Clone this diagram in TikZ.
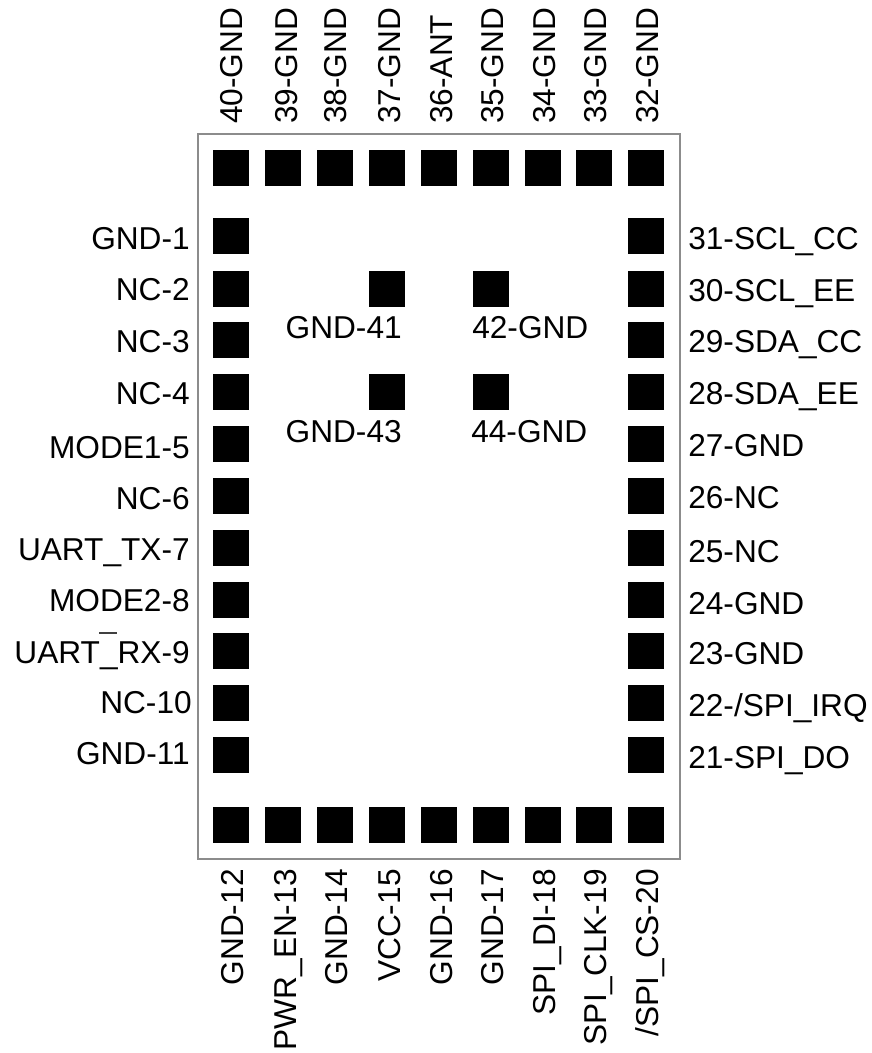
\documentclass[tikz,border=0pt]{standalone}
\usepackage{fontspec}
\setmainfont{Liberation Sans}

\begin{document}
\begin{tikzpicture}[x=0.025cm, y=-0.025cm,
    every node/.style={font=\fontsize{22.5}{27}\selectfont, inner sep=0},
    pad/.style={fill=black, minimum size=0.9cm},
    dashmark/.style={fill=black!75, minimum width=0.45cm, minimum height=0.05cm},
    body/.style={draw=black!45, line width=1.4pt, minimum width=12.05cm, minimum height=18.125cm}]
    \useasboundingbox (0, 0) rectangle (872, 1053);

    \node[body] (body) at (439, 496.5) {};

    % left side
    \node[pad] (1) at (231, 236) {};
    \node[anchor=base east] (1label) at (190, 249) {GND-1};
    \node[pad] (2) at (231, 289) {};
    \node[anchor=base east] (2label) at (190, 300) {NC-2};
    \node[pad] (3) at (231, 340) {};
    \node[anchor=base east] (3label) at (190, 352) {NC-3};
    \node[pad] (4) at (231, 392) {};
    \node[anchor=base east] (4label) at (190, 404) {NC-4};
    \node[pad] (5) at (231, 444) {};
    \node[anchor=base east] (5label) at (190, 458) {MODE1-5};
    \node[pad] (6) at (231, 496) {};
    \node[anchor=base east] (6label) at (190, 509) {NC-6};
    \node[pad] (7) at (231, 548) {};
    \node[anchor=base east] (7label) at (190, 560) {UART\_TX-7};
    \node[pad] (8) at (231, 600) {};
    \node[anchor=base east] (8label) at (190, 611) {MODE2-8};
    \node[pad] (9) at (231, 651) {};
    \node[anchor=base east] (9label) at (190, 663) {UART\_RX-9};
    \node[dashmark] (9mark) at (108, 633) {};
    \node[pad] (10) at (231, 703) {};
    \node[anchor=base east] (10label) at (192, 713) {NC-10};
    \node[pad] (11) at (231, 755) {};
    \node[anchor=base east] (11label) at (190, 764) {GND-11};

    % bottom side
    \node[pad] (12) at (231, 825) {};
    \node[rotate=90, anchor=base east] (12label) at (243, 869) {GND-12};
    \node[pad] (13) at (283, 825) {};
    \node[rotate=90, anchor=base east] (13label) at (296, 869) {PWR\_EN-13};
    \node[pad] (14) at (335, 825) {};
    \node[rotate=90, anchor=base east] (14label) at (347, 869) {GND-14};
    \node[pad] (15) at (387, 825) {};
    \node[rotate=90, anchor=base east] (15label) at (400, 869) {VCC-15};
    \node[pad] (16) at (439, 825) {};
    \node[rotate=90, anchor=base east] (16label) at (452, 869) {GND-16};
    \node[pad] (17) at (491, 825) {};
    \node[rotate=90, anchor=base east] (17label) at (503, 869) {GND-17};
    \node[pad] (18) at (543, 825) {};
    \node[rotate=90, anchor=base east] (18label) at (555, 869) {SPI\_DI-18};
    \node[pad] (19) at (594, 825) {};
    \node[rotate=90, anchor=base east] (19label) at (606, 869) {SPI\_CLK-19};
    \node[pad] (20) at (646, 825) {};
    \node[rotate=90, anchor=base east] (20label) at (658, 869) {/SPI\_CS-20};

    % right side
    \node[pad] (21) at (646, 755) {};
    \node[anchor=base west] (21label) at (688, 768) {21-SPI\_DO};
    \node[pad] (22) at (646, 703) {};
    \node[anchor=base west] (22label) at (688, 716) {22-/SPI\_IRQ};
    \node[pad] (23) at (646, 651) {};
    \node[anchor=base west] (23label) at (688, 664) {23-GND};
    \node[pad] (24) at (646, 600) {};
    \node[anchor=base west] (24label) at (688, 614) {24-GND};
    \node[pad] (25) at (646, 548) {};
    \node[anchor=base west] (25label) at (688, 562) {25-NC};
    \node[pad] (26) at (646, 496) {};
    \node[anchor=base west] (26label) at (688, 508) {26-NC};
    \node[pad] (27) at (646, 444) {};
    \node[anchor=base west] (27label) at (688, 456) {27-GND};
    \node[pad] (28) at (646, 392) {};
    \node[anchor=base west] (28label) at (688, 404) {28-SDA\_EE};
    \node[pad] (29) at (646, 340) {};
    \node[anchor=base west] (29label) at (688, 352) {29-SDA\_CC};
    \node[pad] (30) at (646, 289) {};
    \node[anchor=base west] (30label) at (688, 301) {30-SCL\_EE};
    \node[pad] (31) at (646, 236) {};
    \node[anchor=base west] (31label) at (688, 249) {31-SCL\_CC};

    % top side
    \node[pad] (32) at (646, 168) {};
    \node[rotate=90, anchor=base west] (32label) at (658, 124) {32-GND};
    \node[pad] (33) at (594, 168) {};
    \node[rotate=90, anchor=base west] (33label) at (606, 124) {33-GND};
    \node[pad] (34) at (543, 168) {};
    \node[rotate=90, anchor=base west] (34label) at (555, 124) {34-GND};
    \node[pad] (35) at (491, 168) {};
    \node[rotate=90, anchor=base west] (35label) at (503, 124) {35-GND};
    \node[pad] (36) at (439, 168) {};
    \node[rotate=90, anchor=base west] (36label) at (452, 124) {36-ANT};
    \node[pad] (37) at (387, 168) {};
    \node[rotate=90, anchor=base west] (37label) at (400, 124) {37-GND};
    \node[pad] (38) at (335, 168) {};
    \node[rotate=90, anchor=base west] (38label) at (346, 124) {38-GND};
    \node[pad] (39) at (283, 168) {};
    \node[rotate=90, anchor=base west] (39label) at (297, 124) {39-GND};
    \node[pad] (40) at (231, 168) {};
    \node[rotate=90, anchor=base west] (40label) at (242, 124) {40-GND};

    % inner pads
    \node[pad] (41) at (387, 289) {};
    \node[anchor=base east] (41label) at (402, 338) {GND-41};
    \node[pad] (42) at (491, 289) {};
    \node[anchor=base west] (42label) at (472, 338) {42-GND};
    \node[pad] (43) at (387, 392) {};
    \node[anchor=base east] (43label) at (402, 442) {GND-43};
    \node[pad] (44) at (491, 392) {};
    \node[anchor=base west] (44label) at (471, 442) {44-GND};
\end{tikzpicture}
\end{document}
